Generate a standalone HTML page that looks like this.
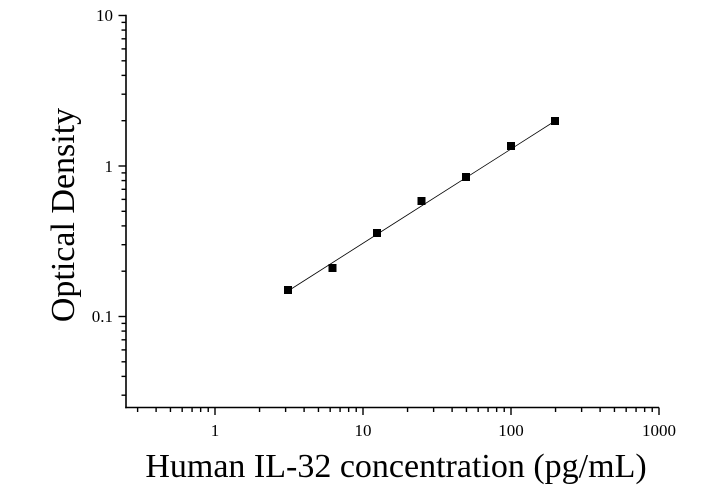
<!DOCTYPE html>
<html><head><meta charset="utf-8"><style>body{margin:0;background:#fff}svg{display:block}</style></head>
<body>
<svg id="s" width="720" height="492" xmlns="http://www.w3.org/2000/svg" font-family="Liberation Serif, serif">
<g id="ax" stroke="#000" stroke-width="1.6" fill="none">
<line x1="126" y1="14.8" x2="126" y2="408.3"/>
<line x1="125.2" y1="407.5" x2="659" y2="407.5"/>
</g>
<g font-size="17" fill="#000">
<text x="215" y="436" text-anchor="middle">1</text>
<text x="363" y="436" text-anchor="middle">10</text>
<text x="511" y="436" text-anchor="middle">100</text>
<text x="659" y="436" text-anchor="middle">1000</text>
<text x="113" y="21" text-anchor="end">10</text>
<text x="113" y="172" text-anchor="end">1</text>
<text x="113" y="322" text-anchor="end">0.1</text>
</g>
<text x="396" y="477" font-size="34" text-anchor="middle">Human IL-32 concentration (pg/mL)</text>
<text transform="translate(74,215) rotate(-90)" font-size="34" text-anchor="middle">Optical Density</text>
<polyline points="288,291 555,121" stroke="#000" stroke-width="0.8" fill="none"/>
<g fill="#000">
<rect x="284" y="286" width="8" height="8"/>
<rect x="328.5" y="264" width="8" height="8"/>
<rect x="373" y="229" width="8" height="8"/>
<rect x="417.5" y="197" width="8" height="8"/>
<rect x="462" y="173" width="8" height="8"/>
<rect x="507" y="142" width="8" height="8"/>
<rect x="551" y="117" width="8" height="8"/>
</g>
<g id="t" stroke="#000" stroke-width="1.4"></g>
</svg>
<script>
var g=document.getElementById('t'),h='';
var xb=[67,215,363,511],yb=[467,316.5,166];
for(var i=0;i<xb.length;i++){h+='<line x1="'+(xb[i]+148)+'" y1="407.5" x2="'+(xb[i]+148)+'" y2="415"/>';
for(var m=2;m<10;m++){var x=xb[i]+148*Math.log10(m);if(x>127&&x<659)h+='<line x1="'+x+'" y1="407.5" x2="'+x+'" y2="412"/>';}}
for(var j=0;j<yb.length;j++){h+='<line x1="118.5" y1="'+(yb[j]-150.5)+'" x2="126" y2="'+(yb[j]-150.5)+'"/>';
for(var m=2;m<10;m++){var y=yb[j]-150.5*Math.log10(m);if(y<407&&y>15)h+='<line x1="121.5" y1="'+y+'" x2="126" y2="'+y+'"/>';}}
g.innerHTML=h;
</script>
</body></html>
